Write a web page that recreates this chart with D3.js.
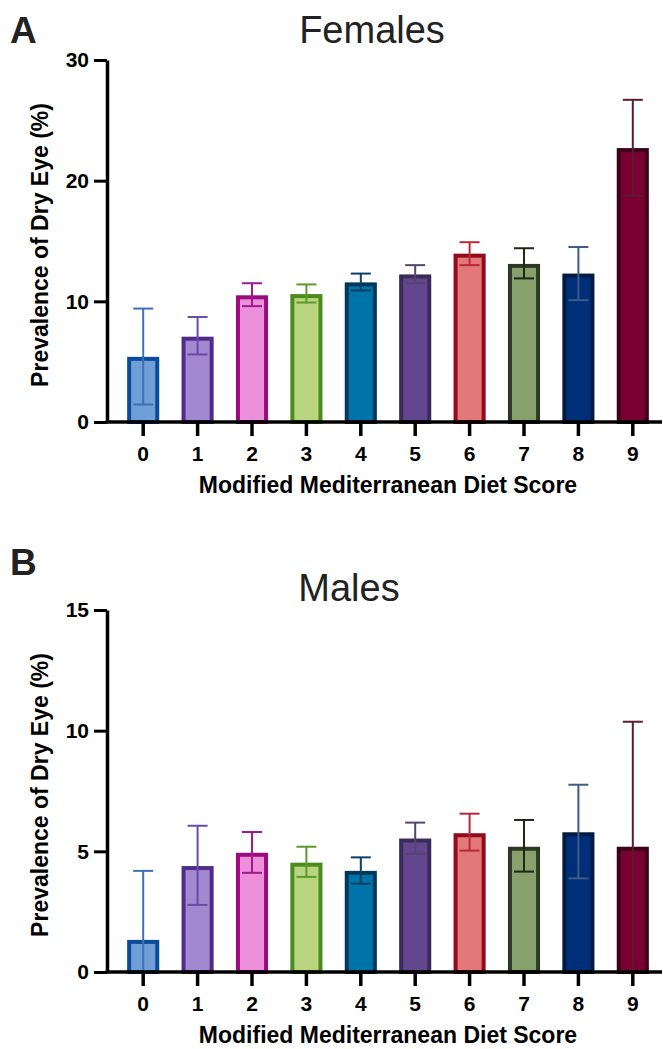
<!DOCTYPE html>
<html><head><meta charset="utf-8">
<script src="https://cdn.jsdelivr.net/npm/d3@7"></script>
<style>body{margin:0;background:#fff}svg{display:block}text{font-family:"Liberation Sans",Arial,sans-serif}</style>
</head><body><svg id="c" width="663" height="1049"></svg>
<script>
const categories = ["0","1","2","3","4","5","6","7","8","9"];
const femaleValues = [5.4, 7.07, 10.5, 10.6, 11.57, 12.23, 13.95, 13.1, 12.3, 22.7];
const femaleUpper  = [9.4, 8.7, 11.5, 11.4, 12.3, 13.0, 14.9, 14.4, 14.5, 26.7];
const femaleLower  = [1.45, 5.6, 9.6, 9.9, 10.9, 11.5, 13.0, 11.9, 10.1, 18.75];
const maleValues = [1.33, 4.39, 4.94, 4.53, 4.19, 5.53, 5.75, 5.19, 5.79, 5.19];
const maleUpper  = [4.19, 6.06, 5.8, 5.19, 4.75, 6.19, 6.56, 6.3, 7.76, 10.37];
const maleLower  = [0, 2.78, 4.11, 3.94, 3.66, 4.9, 5.03, 4.16, 3.88, 0];
const femaleTicks = [0, 10, 20, 30];
const maleTicks = [0, 5, 10, 15];
const fills   = ["#6f9fd6","#a188d0","#ec90dc","#b9d47f","#0073a9","#63478e","#e27878","#87a06c","#002f79","#7a0033"];
const strokes = ["#0a4c99","#4f2c8b","#9a0b80","#4b8a1c","#00375d","#3b2b59","#94091b","#2d3a23","#001c43","#3d0019"];
const errCols = ["#3e70b6","#6a4ba7","#a0198d","#5b9a2d","#0e3f66","#56446f","#b8293b","#1f2717","#3f5a86","#5d1b31"];

const svg = d3.select("#c");

function panel(opts){
  const g = svg.append("g");
  const x = d3.scaleBand().domain(categories).range([116, 660]).paddingInner(0.41).paddingOuter(0.205);
  const y = d3.scaleLinear().domain([0, opts.max]).range([opts.y1, opts.y0]);
  const axX = 107;
  const data = categories.map((c,i)=>({c,i,v:opts.values[i],hi:opts.upper[i],lo:opts.lower[i]}));
  g.selectAll("rect.bar").data(data).join("rect")
    .attr("x", d=>x(d.c)+2).attr("width", x.bandwidth()-4)
    .attr("y", d=>y(d.v)+2).attr("height", d=>y(0)-y(d.v)-2)
    .attr("fill", d=>fills[d.i]).attr("stroke", d=>strokes[d.i]).attr("stroke-width",4);
  const cx = d=>x(d.c)+x.bandwidth()/2;
  const eb = g.selectAll("g.eb").data(data).join("g").attr("stroke", d=>errCols[d.i]).attr("stroke-width",2);
  eb.append("line").attr("x1",cx).attr("x2",cx).attr("y1",d=>y(d.hi)).attr("y2",d=>y(d.lo));
  eb.append("line").attr("x1",d=>cx(d)-10).attr("x2",d=>cx(d)+10).attr("y1",d=>y(d.hi)).attr("y2",d=>y(d.hi));
  eb.append("line").attr("x1",d=>cx(d)-10).attr("x2",d=>cx(d)+10).attr("y1",d=>y(d.lo)).attr("y2",d=>y(d.lo));
  const ya = g.append("g").attr("transform",`translate(${axX},0)`)
    .call(d3.axisLeft(y).tickValues(opts.ticks).tickSize(13).tickPadding(5).tickSizeOuter(0));
  ya.select(".domain").attr("stroke","#000").attr("stroke-width",3.5);
  ya.selectAll(".tick line").attr("stroke","#000").attr("stroke-width",3);
  ya.selectAll(".tick text").attr("font-size",21).attr("font-weight","bold").attr("fill","#000").attr("font-family","Liberation Sans, Arial, sans-serif");
  const xa = g.append("g").attr("transform",`translate(0,${y(0)})`)
    .call(d3.axisBottom(x).tickSize(14).tickPadding(10).tickSizeOuter(0));
  xa.select(".domain").attr("d",`M${axX-1.5},0H662`).attr("stroke","#000").attr("stroke-width",3.5);
  xa.selectAll(".tick line").attr("stroke","#000").attr("stroke-width",3.5);
  xa.selectAll(".tick text").attr("font-size",21).attr("font-weight","bold").attr("fill","#000").attr("font-family","Liberation Sans, Arial, sans-serif");
  g.append("text").attr("x",388).attr("y",y(0)+71).attr("text-anchor","middle")
    .attr("font-size",23).attr("font-weight","bold").text("Modified Mediterranean Diet Score");
  g.append("text").attr("transform",`translate(48,${(opts.y0+opts.y1)/2 + 4}) rotate(-90)`).attr("text-anchor","middle")
    .attr("font-size",23).attr("font-weight","bold").text("Prevalence of Dry Eye (%)");
  g.append("text").attr("x",opts.titleX).attr("y",opts.titleY).attr("text-anchor","middle")
    .attr("font-size",38).attr("fill","#222").text(opts.title);
  g.append("text").attr("x",10).attr("y",opts.letterY)
    .attr("font-size",37).attr("font-weight","bold").attr("fill","#222").text(opts.letter);
}

panel({values:femaleValues, upper:femaleUpper, lower:femaleLower, ticks:femaleTicks, max:30, y0:60, y1:422,
       title:"Females", titleX:372, titleY:43, letter:"A", letterY:43});
panel({values:maleValues, upper:maleUpper, lower:maleLower, ticks:maleTicks, max:15, y0:610, y1:972,
       title:"Males", titleX:349, titleY:601, letter:"B", letterY:575});
</script></body></html>
